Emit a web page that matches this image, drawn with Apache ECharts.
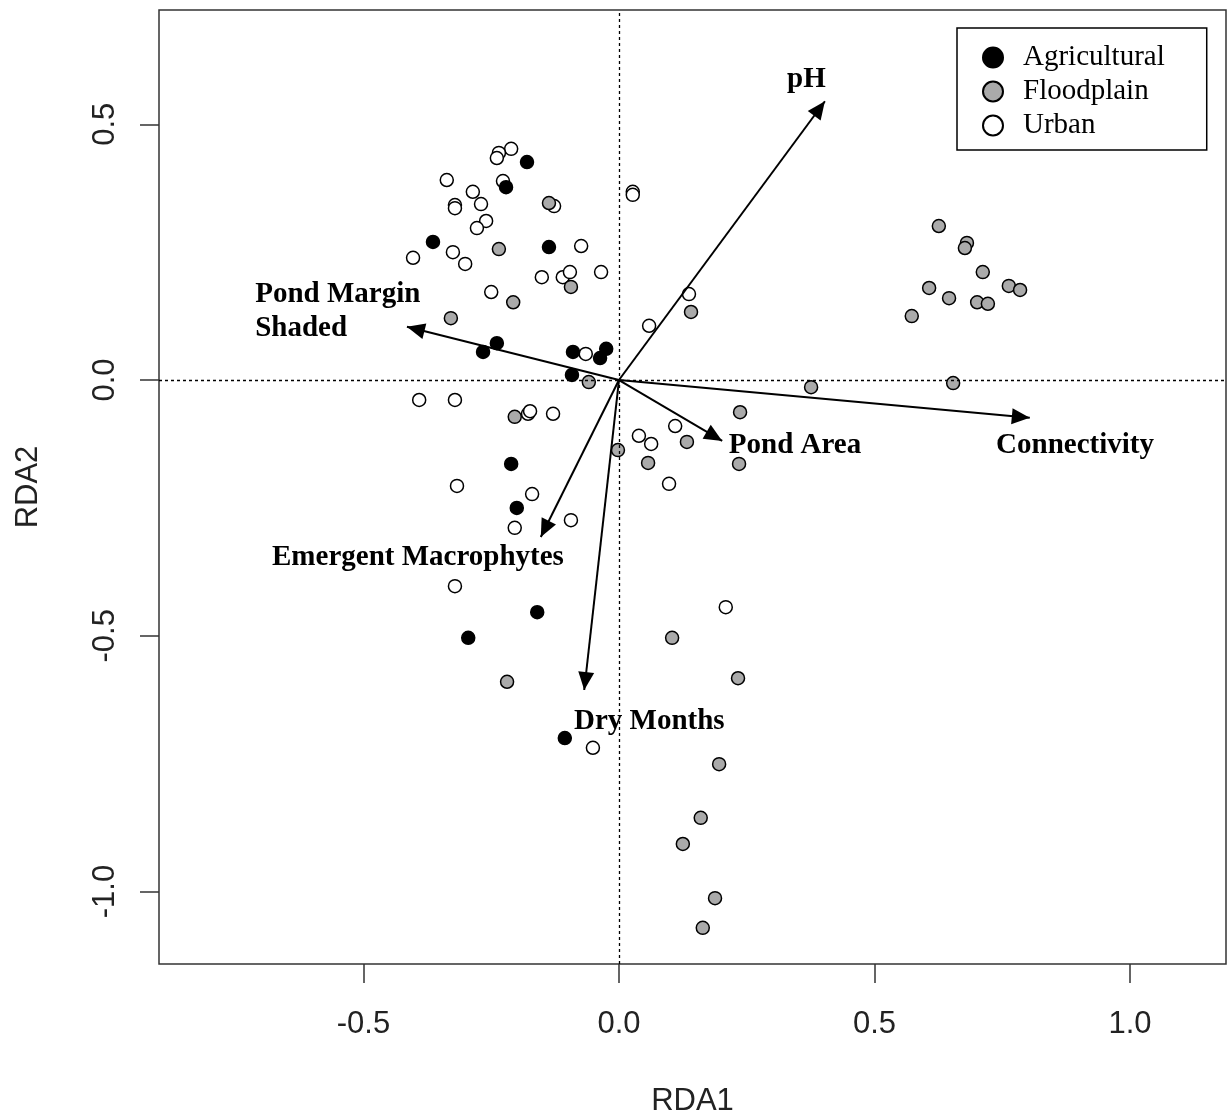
<!DOCTYPE html>
<html>
<head>
<meta charset="utf-8">
<script src="https://cdn.jsdelivr.net/npm/echarts@6/dist/echarts.min.js"></script>
<style>html,body{margin:0;padding:0;background:#fff}#c{width:1227px;height:1118px}</style>
</head>
<body>
<div id="c"></div>
<script>
// ---- Site scores (RDA1, RDA2) ----
const agriculturalX = [-0.180,-0.221,-0.364,-0.137,-0.266,-0.239,-0.090,-0.025,-0.037,-0.092,-0.211,-0.200,-0.160,-0.295,-0.106];
const agriculturalY = [0.426,0.377,0.270,0.260,0.055,0.072,0.055,0.061,0.043,0.010,-0.164,-0.250,-0.454,-0.504,-0.700];

const floodplainX = [-0.137,-0.235,-0.094,-0.207,-0.329,0.141,-0.059,-0.204,-0.002,0.133,0.057,0.237,0.235,0.376,0.626,0.681,0.677,0.712,0.607,0.646,0.701,0.722,0.763,0.785,0.573,0.654,-0.219,0.104,0.233,0.196,0.160,0.125,0.188,0.164];
const floodplainY = [0.346,0.256,0.182,0.152,0.121,0.133,-0.004,-0.072,-0.137,-0.121,-0.162,-0.063,-0.164,-0.014,0.301,0.268,0.258,0.211,0.180,0.160,0.152,0.149,0.184,0.176,0.125,-0.006,-0.590,-0.504,-0.583,-0.751,-0.856,-0.907,-1.013,-1.071];

const urbanX = [-0.211,-0.235,-0.239,-0.337,-0.227,-0.286,-0.321,-0.321,-0.270,-0.127,0.027,0.027,-0.260,-0.278,-0.325,-0.301,-0.403,-0.074,-0.151,-0.110,-0.096,-0.035,-0.250,0.137,0.059,-0.065,-0.391,-0.321,-0.178,-0.174,-0.129,0.110,0.039,0.063,0.098,-0.317,-0.170,-0.094,-0.204,-0.321,0.209,-0.051];
const urbanY = [0.452,0.444,0.434,0.391,0.389,0.368,0.342,0.336,0.344,0.340,0.368,0.362,0.311,0.297,0.250,0.227,0.239,0.262,0.201,0.201,0.211,0.211,0.172,0.168,0.106,0.051,-0.039,-0.039,-0.066,-0.061,-0.066,-0.090,-0.109,-0.125,-0.203,-0.207,-0.223,-0.274,-0.289,-0.403,-0.444,-0.719];

// ---- Environmental vectors ----
const vectorNames = ['pH','Pond Margin\nShaded','Connectivity','Pond Area','Emergent Macrophytes','Dry Months'];
const vectorX = [0.403,-0.415,0.804,0.202,-0.153,-0.068];
const vectorY = [0.545,0.104,-0.074,-0.119,-0.307,-0.606];
// label anchors (left edge, vertical middle), data units
const labelX = [0.329,-0.712,0.738,0.215,-0.679,-0.088];
const labelY = [0.587,0.134,-0.128,-0.128,-0.347,-0.668];

// ---- Axes ----
const xTicks = [-0.5,0.0,0.5,1.0];
const yTicks = [-1.0,-0.5,0.0,0.5];
const xRange = [-0.9002,1.188];
const yRange = [-1.1417,0.7234];

const zip = (a,b) => a.map((v,i)=>[v,b[i]]);

const axisFont = {fontFamily:'Liberation Sans', fontSize:31, color:'#222'};

const ptBase = {type:'scatter', symbol:'circle', symbolSize:13, z:3};

// filled arrow head whose tip sits at the centre of a 36x36 box
const arrowHead = 'path://M18,18 L26,36 L10,36 Z M0,0 M36,0';

const option = {
  animation:false,
  backgroundColor:'#fff',
  grid:{left:159, top:10, right:1, bottom:154, outerBoundsMode:'none', containLabel:false,
    show:true, borderColor:'#333', borderWidth:1.5, backgroundColor:'transparent'},
  xAxis:{
    type:'value', min:xRange[0], max:xRange[1],
    axisLine:{show:false, onZero:false}, splitLine:{show:false},
    axisTick:{show:true, length:19, customValues:xTicks, lineStyle:{color:'#333', width:1.5}},
    axisLabel:Object.assign({customValues:xTicks, margin:45, formatter:v=>v.toFixed(1)}, axisFont),
    name:'RDA1', nameLocation:'middle', nameGap:122, nameTextStyle:axisFont
  },
  yAxis:{
    type:'value', min:yRange[0], max:yRange[1],
    axisLine:{show:false, onZero:false}, splitLine:{show:false},
    axisTick:{show:true, length:19, customValues:yTicks, lineStyle:{color:'#333', width:1.5}},
    axisLabel:Object.assign({customValues:yTicks, margin:38, rotate:90, formatter:v=>v.toFixed(1)}, axisFont),
    name:'RDA2', nameLocation:'middle', nameGap:115, nameTextStyle:axisFont
  },
  legend:{
    orient:'vertical', left:957, top:28,
    padding:[15,42,10,25], itemWidth:20, itemHeight:20, itemGap:5,
    borderColor:'#000', borderWidth:1.5, backgroundColor:'#fff',
    textStyle:{fontFamily:'Liberation Serif', fontSize:29, color:'#000', padding:[0,0,0,15]},
    data:['Agricultural','Floodplain','Urban']
  },
  series:[
    Object.assign({}, ptBase, {name:'Urban', data:zip(urbanX,urbanY), itemStyle:{color:'#fff', borderColor:'#000', borderWidth:1.5, opacity:1},
      markLine:{silent:true, symbol:'none', label:{show:false}, lineStyle:{color:'#000', type:[3,3], width:1.3},
        data:[{xAxis:0},{yAxis:0}]}}),
    Object.assign({}, ptBase, {name:'Floodplain', data:zip(floodplainX,floodplainY), itemStyle:{color:'#aaaaaa', borderColor:'#000', borderWidth:1.5, opacity:1}}),
    Object.assign({}, ptBase, {name:'Agricultural', data:zip(agriculturalX,agriculturalY), itemStyle:{color:'#000', borderColor:'#000', borderWidth:1.5, opacity:1}}),
    {
      type:'lines', coordinateSystem:'cartesian2d', z:5, silent:true,
      symbol:['none', arrowHead], symbolSize:[0,36],
      lineStyle:{color:'#000', width:2, opacity:1, curveness:0},
      data:vectorX.map((x,i)=>({coords:[[0,0],[x,vectorY[i]]]}))
    },
    {
      type:'scatter', z:6, silent:true, symbolSize:0, itemStyle:{opacity:1},
      data:labelX.map((x,i)=>({value:[x,labelY[i]], name:vectorNames[i]})),
      label:{show:true, position:'right', distance:0, formatter:p=>p.name,
        fontFamily:'Liberation Serif', fontWeight:'bold', fontSize:29, lineHeight:34, color:'#000', opacity:1, align:'left', verticalAlign:'middle'}
    }
  ]
};
const chart = echarts.init(document.getElementById('c'), null, {renderer:'canvas'});
chart.setOption(option);
</script>
</body>
</html>
